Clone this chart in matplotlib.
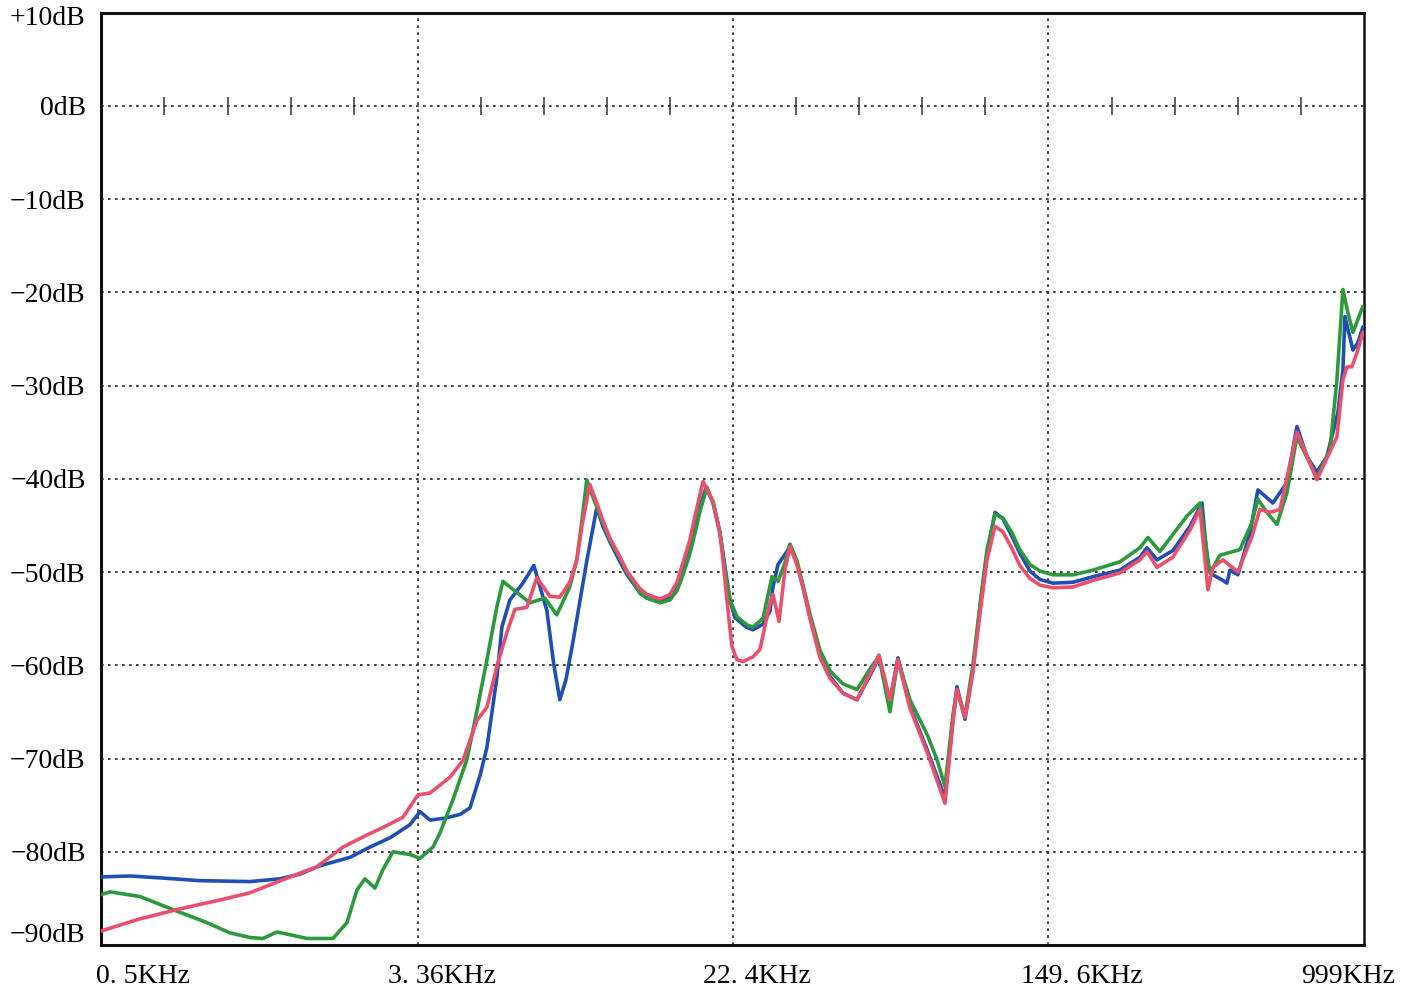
import matplotlib.pyplot as plt
import matplotlib.transforms as mtransforms
import numpy as np

# --- measured spectra: frequency in kHz, level in dB ---
blue_khz = [0.500, 0.595, 0.713, 0.907, 1.226, 1.468, 1.656, 1.868, 2.237, 2.523,
            2.847, 3.210, 3.410, 3.621, 3.963, 4.337, 4.606, 4.894, 5.101, 5.417,
            5.582, 5.856, 6.331, 6.764, 7.313, 7.627, 7.908, 8.199, 8.551, 9.303,
            9.88, 10.25, 10.70, 11.36, 11.85, 12.29, 12.81, 13.37, 14.45, 15.35,
            16.01, 16.60, 17.31, 17.84, 18.38, 19.06, 19.88, 20.73, 21.36, 22.02,
            22.69, 24.25, 25.28, 26.85, 28.01, 28.52, 29.39, 31.04, 31.60, 32.95,
            34.17, 35.63, 37.85, 40.19, 43.47, 47.29, 52.05, 53.96, 57.65, 60.50,
            65.03, 72.05, 76.50, 80.28, 84.24, 86.29, 90.55, 95.03, 99.1, 103.4,
            108.5, 113.8, 120.2, 126.0, 133.9, 142.2, 153.8, 173.5, 195.7, 230.1,
            259.5, 270.7, 287.5, 316.5, 350.7, 376.9, 390.7, 402.6, 427.6, 438.1,
            446.0, 467.9, 503.1, 527.8, 577.7, 628.5, 667.5, 708.8, 752.7, 799.4,
            854.2, 880.3, 891.0, 934.9, 963.4, 993.0]
blue_db = [-82.7, -82.6, -82.8, -83.1, -83.2, -82.9, -82.4, -81.5, -80.6, -79.5,
           -78.5, -77.1, -75.7, -76.6, -76.4, -76.0, -75.3, -71.8, -68.8, -61.3,
           -55.9, -53.0, -51.2, -49.3, -54.1, -59.9, -63.7, -61.6, -57.6, -48.8,
           -43.1, -45.1, -46.8, -48.9, -50.3, -51.2, -52.2, -52.8, -53.2, -52.8,
           -51.8, -50.0, -47.6, -45.4, -43.0, -41.0, -42.5, -45.8, -49.4, -53.0,
           -54.9, -55.9, -56.2, -55.6, -54.2, -51.6, -49.2, -47.8, -47.1, -49.0,
           -51.6, -54.8, -58.7, -61.2, -63.0, -63.7, -60.5, -59.1, -63.9, -59.2,
           -64.4, -69.0, -71.9, -74.2, -65.8, -62.3, -65.8, -60.5, -53.9, -48.0,
           -43.6, -44.3, -46.2, -48.0, -49.9, -50.8, -51.2, -51.1, -50.5, -49.8,
           -48.4, -47.4, -48.7, -47.7, -45.1, -42.6, -49.5, -50.3, -50.9, -51.2,
           -49.8, -50.3, -45.8, -41.2, -42.6, -40.4, -34.4, -37.6, -39.3, -37.6,
           -32.9, -28.3, -22.6, -26.2, -25.4, -23.7]

green_khz = [0.500, 0.528, 0.632, 0.771, 0.946, 1.087, 1.226, 1.326, 1.442, 1.559,
             1.727, 2.020, 2.197, 2.333, 2.448, 2.600, 2.729, 2.899, 3.210, 3.410,
             3.687, 3.845, 4.158, 4.524, 4.806, 5.101, 5.417, 5.615, 6.107, 6.603,
             7.226, 7.767, 8.398, 8.759, 9.04, 9.303, 9.66, 10.25, 10.70, 11.36,
             11.85, 12.29, 12.81, 13.37, 14.45, 15.35, 16.01, 16.60, 17.31, 17.84,
             18.38, 19.17, 19.88, 20.73, 21.36, 22.02, 22.97, 24.44, 25.28, 26.85,
             28.35, 29.39, 30.67, 31.60, 32.95, 34.17, 35.63, 37.85, 40.19, 43.47,
             47.29, 52.05, 53.96, 57.65, 60.50, 65.03, 72.05, 76.50, 80.28, 84.24,
             86.29, 90.55, 95.03, 99.1, 103.4, 108.5, 113.8, 120.2, 126.0, 133.9,
             142.2, 153.8, 173.5, 195.7, 230.1, 259.5, 272.3, 292.7, 344.4, 372.5,
             395.4, 420.0, 473.6, 509.1, 527.8, 557.2, 591.8, 628.5, 667.5, 752.7,
             814.0, 849.0, 880.3, 907.2, 934.9, 993.0]
green_db = [-84.6, -84.3, -84.8, -86.2, -87.6, -88.7, -89.2, -89.3, -88.6, -88.9,
            -89.3, -89.3, -87.6, -84.1, -82.9, -83.9, -81.9, -80.0, -80.3, -80.7,
            -79.5, -78.0, -74.4, -70.1, -64.8, -59.4, -53.7, -51.0, -52.2, -53.3,
            -52.8, -54.6, -51.6, -48.7, -44.4, -40.1, -42.0, -44.7, -46.6, -48.5,
            -50.1, -51.0, -52.3, -52.8, -53.3, -53.0, -52.0, -50.3, -48.0, -45.8,
            -43.5, -40.9, -42.6, -45.8, -49.8, -53.0, -54.8, -55.7, -55.9, -55.0,
            -50.5, -51.0, -49.0, -47.0, -48.8, -51.4, -54.5, -58.4, -60.6, -62.0,
            -62.6, -59.9, -59.1, -65.0, -59.4, -63.7, -67.4, -70.1, -73.0, -65.3,
            -62.6, -65.5, -59.9, -53.5, -47.6, -43.8, -44.2, -45.8, -47.6, -49.2,
            -49.9, -50.3, -50.3, -49.8, -48.9, -47.4, -46.3, -47.8, -44.0, -42.6,
            -50.1, -48.2, -47.6, -44.7, -42.2, -43.6, -44.9, -41.5, -35.5, -39.9,
            -36.9, -29.4, -19.7, -22.2, -24.3, -21.5]

red_khz = [0.500, 0.632, 0.790, 1.042, 1.226, 1.495, 1.834, 2.145, 2.478, 2.729,
           3.077, 3.369, 3.621, 4.084, 4.416, 4.806, 5.101, 5.417, 5.752, 6.035,
           6.486, 6.887, 7.446, 7.908, 8.398, 8.759, 9.04, 9.472, 9.88, 10.25,
           10.70, 11.36, 11.85, 12.29, 12.81, 13.37, 14.45, 15.35, 16.01, 16.60,
           17.31, 17.84, 18.72, 19.88, 20.73, 21.11, 21.62, 22.28, 22.97, 23.81,
           25.28, 26.37, 28.01, 28.52, 29.57, 30.67, 31.60, 32.95, 34.17, 35.63,
           37.85, 40.19, 43.47, 47.29, 52.05, 53.96, 57.65, 60.50, 65.03, 72.05,
           76.50, 80.28, 84.24, 86.29, 90.55, 95.03, 99.1, 103.4, 108.5, 113.8,
           120.2, 126.0, 133.9, 142.2, 153.8, 173.5, 195.7, 230.1, 259.5, 270.7,
           287.5, 316.5, 350.7, 372.5, 390.7, 402.6, 427.6, 467.9, 509.1, 534.2,
           567.3, 602.6, 667.5, 752.7, 849.0, 880.3, 901.8, 929.3, 957.6, 993.0]
red_db = [-88.5, -87.2, -86.2, -85.1, -84.4, -83.0, -81.6, -79.5, -78.2, -77.4,
          -76.3, -73.9, -73.7, -72.0, -70.2, -65.9, -64.5, -60.1, -56.5, -54.0,
          -53.8, -50.6, -52.6, -52.7, -51.1, -48.7, -45.0, -40.6, -42.6, -44.5,
          -46.4, -48.4, -49.9, -50.8, -51.8, -52.4, -52.9, -52.4, -51.1, -49.0,
          -46.5, -44.0, -40.3, -42.4, -45.8, -48.7, -53.0, -58.0, -59.4, -59.6,
          -59.1, -58.3, -53.3, -52.4, -55.3, -49.7, -47.3, -49.2, -51.7, -55.0,
          -59.2, -61.4, -63.0, -63.7, -60.3, -58.9, -63.7, -59.4, -64.6, -69.3,
          -72.3, -74.8, -66.1, -62.6, -65.6, -60.7, -54.5, -48.7, -45.1, -45.7,
          -47.5, -49.3, -50.7, -51.4, -51.7, -51.6, -50.9, -50.1, -48.7, -47.8,
          -49.5, -48.4, -45.5, -43.3, -51.9, -49.5, -48.7, -50.0, -46.2, -43.3,
          -43.6, -43.3, -35.0, -40.1, -35.5, -29.4, -28.0, -28.0, -26.5, -24.3]

freq_ticks = [0.5, 3.36, 22.4, 149.6, 999]
freq_labels = ['0. 5KHz', '3. 36KHz', '22. 4KHz', '149. 6KHz', '999KHz']
db_ticks = [10, 0, -10, -20, -30, -40, -50, -60, -70, -80, -90]
db_labels = ['+10dB', '0dB', '\u221210dB', '\u221220dB', '\u221230dB', '\u221240dB',
             '\u221250dB', '\u221260dB', '\u221270dB', '\u221280dB', '\u221290dB']

plt.rcParams['font.family'] = ['Liberation Serif', 'DejaVu Serif']

fig = plt.figure(figsize=(14.14, 9.94), dpi=100)
ax = fig.add_axes([0.0714, 0.0493, 0.8932, 0.9381])
ax.set_xscale('log')
ax.set_xlim(0.5, 999)
ax.set_ylim(-90, 10)

# dotted grid on the interior divisions
dots = (0, (1.6, 2.6))
for f in freq_ticks[1:-1]:
    ax.axvline(f, color='#222222', lw=1.2, ls=dots, zorder=1)
for d in db_ticks[1:-1]:
    ax.axhline(d, color='#222222', lw=1.2, ls=dots, zorder=1)

# small division marks along the 0 dB line
minor = np.concatenate([np.geomspace(a, b, 6)[1:-1]
                        for a, b in zip(freq_ticks[:-1], freq_ticks[1:])])
ax.plot(minor, np.zeros_like(minor), ls='none', marker='|', ms=13, mew=1.1,
        color='#333333', zorder=2)

line_kw = dict(lw=2.6, solid_joinstyle='round', solid_capstyle='round')
ax.plot(blue_khz, blue_db, color='#1f4fb4', zorder=3, **line_kw)
ax.plot(green_khz, green_db, color='#2c9a3c', zorder=4, **line_kw)
ax.plot(red_khz, red_db, color='#ea4f6c', zorder=5, **line_kw)

ax.set_xticks(freq_ticks)
ax.set_xticklabels(freq_labels)
ax.xaxis.set_minor_locator(plt.NullLocator())
ax.set_yticks(db_ticks)
ax.set_yticklabels(db_labels)
ax.tick_params(axis='both', length=0, labelsize=20)
ax.tick_params(axis='x', pad=14)
ax.tick_params(axis='y', pad=11)

# labels sit a little off their gridlines
x_shift = [42, 24, 24, 33, -16]
for lab, dx in zip(ax.get_xticklabels(), x_shift):
    lab.set_transform(lab.get_transform() +
                      mtransforms.ScaledTranslation(dx / 100, 0, fig.dpi_scale_trans))
y_labs = ax.get_yticklabels()
y_labs[0].set_transform(y_labs[0].get_transform() +
                        mtransforms.ScaledTranslation(0, -0.03, fig.dpi_scale_trans))
y_labs[-1].set_transform(y_labs[-1].get_transform() +
                         mtransforms.ScaledTranslation(0, 0.12, fig.dpi_scale_trans))

for side in ['left', 'top', 'bottom']:
    ax.spines[side].set_linewidth(2.2)
ax.spines['right'].set_linewidth(1.8)
for s in ax.spines.values():
    s.set_color('#111111')

fig.savefig('out.png', dpi=100, facecolor='white')
